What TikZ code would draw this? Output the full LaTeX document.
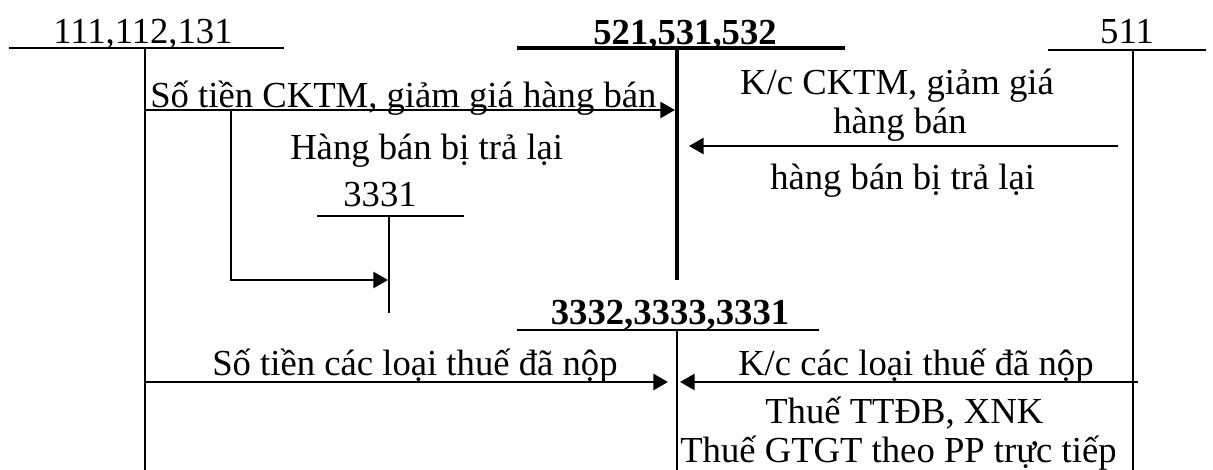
\documentclass[tikz,border=0pt]{standalone}
\usepackage{fontspec}
\setmainfont{Liberation Serif}
\usetikzlibrary{arrows.meta}
\begin{document}
\begin{tikzpicture}[x=0.75pt,y=-0.75pt,
  acct/.style={line width=2pt},
  acctthick/.style={line width=3pt},
  flow/.style={line width=2pt,-{Triangle[length=11pt,width=12pt]}},
  lbl/.style={inner sep=0pt,font=\fontsize{27.5}{33}\selectfont},
  lblbold/.style={lbl,font=\fontsize{27.5}{33}\selectfont\bfseries}]
\useasboundingbox (0,0) rectangle (1213,470);

% T-account 111,112,131
\coordinate (aL) at (9,48);   \coordinate (aR) at (284,48);
\coordinate (aT) at (145,48); \coordinate (aB) at (145,470);
\draw[acct] (aL) -- (aR);
\draw[acct] (aT) -- (aB);
\node[lbl,anchor=base] (aName) at (143,44) {111,112,131};

% T-account 521,531,532
\coordinate (bL) at (517,48); \coordinate (bR) at (845,48);
\coordinate (bT) at (677,48); \coordinate (bB) at (677,280);
\draw[acctthick] (bL) -- (bR);
\draw[acctthick] (bT) -- (bB);
\node[lblbold,anchor=base] (bName) at (685,45) {521,531,532};

% T-account 511
\coordinate (cL) at (1048,50); \coordinate (cR) at (1206,50);
\coordinate (cT) at (1133,50); \coordinate (cB) at (1133,470);
\draw[acct] (cL) -- (cR);
\draw[acct] (cT) -- (cB);
\node[lbl,anchor=base] (cName) at (1127,44) {511};

% T-account 3331
\coordinate (dL) at (317,216); \coordinate (dR) at (464,216);
\coordinate (dT) at (389,216); \coordinate (dB) at (389,313);
\draw[acct] (dL) -- (dR);
\draw[acct] (dT) -- (dB);
\node[lbl,anchor=base] (dName) at (380,207) {3331};

% T-account 3332,3333,3331
\coordinate (eL) at (517,330); \coordinate (eR) at (819,330);
\coordinate (eT) at (677,330); \coordinate (eB) at (677,470);
\draw[acct] (eL) -- (eR);
\draw[acct] (eT) -- (eB);
\node[lblbold,anchor=base] (eName) at (670,325) {3332,3333,3331};

% flows
\coordinate (f1s) at (145,110);  \coordinate (f1e) at (675,110);
\draw[flow] (f1s) -- (f1e);
\coordinate (f2s) at (231,110);  \coordinate (f2c) at (231,280);
\coordinate (f2e) at (388,280);
\draw[flow] (f2s) -- (f2c) -- (f2e);
\coordinate (f3s) at (1118,146); \coordinate (f3e) at (689,146);
\draw[flow] (f3s) -- (f3e);
\coordinate (f4s) at (145,382);  \coordinate (f4e) at (668,382);
\draw[flow] (f4s) -- (f4e);
\coordinate (f5s) at (1138,382); \coordinate (f5e) at (680,382);
\draw[flow] (f5s) -- (f5e);

% labels
\node[lbl,anchor=base west] (t1) at (150,108) {Số tiền CKTM, giảm giá hàng bán};
\node[lbl,anchor=base west] (t2) at (290,160) {Hàng bán bị trả lại};
\node[lbl,anchor=base] (t3a) at (897,95) {K/c CKTM, giảm giá};
\node[lbl,anchor=base] (t3b) at (900,134) {hàng bán};
\node[lbl,anchor=base west] (t4) at (770,190) {hàng bán bị trả lại};
\node[lbl,anchor=base west] (t5) at (212,375) {Số tiền các loại thuế đã nộp};
\node[lbl,anchor=base west] (t6) at (738,375) {K/c các loại thuế đã nộp};
\node[lbl,anchor=base west] (t7) at (765,423) {Thuế TTĐB, XNK};
\node[lbl,anchor=base west] (t8) at (680,462) {Thuế GTGT theo PP trực tiếp};
\end{tikzpicture}
\end{document}
